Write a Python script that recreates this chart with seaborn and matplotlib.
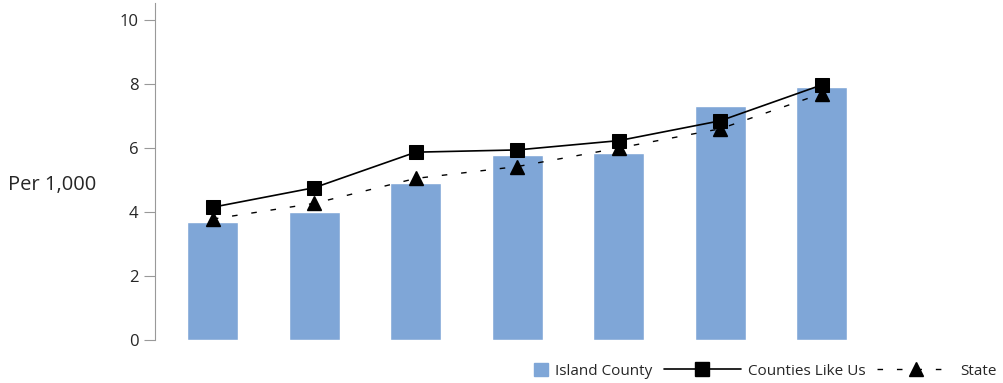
import numpy as np
import pandas as pd
import matplotlib
matplotlib.use("Agg")
import matplotlib.pyplot as plt
import matplotlib.patches as mpatches
from matplotlib.lines import Line2D
from matplotlib.legend_handler import HandlerPatch
import seaborn as sns

# data
periods = ["P1", "P2", "P3", "P4", "P5", "P6", "P7"]
island_county = [3.68, 3.99, 4.90, 5.78, 5.85, 7.30, 7.90]
counties_like_us = [4.15, 4.76, 5.87, 5.94, 6.23, 6.85, 7.97]
state = [3.78, 4.27, 5.05, 5.42, 6.00, 6.60, 7.70]

sns.set_style("white")
plt.rcParams['font.family'] = ['Open Sans', 'DejaVu Sans']

fig = plt.figure(figsize=(10.04, 3.83), dpi=100)
ax = fig.add_axes([0.1544, 0.1123, 0.7216, 0.8797])

bar_color = "#7FA6D7"
df = pd.DataFrame({"period": periods, "value": island_county})
sns.barplot(data=df, x="period", y="value", color=bar_color, width=0.5,
            saturation=1, ax=ax, zorder=1)

xs = np.arange(len(periods))
sns.lineplot(x=xs, y=state, color="black", lw=1, ax=ax, zorder=2,
             dashes=False)
ax.lines[-1].set_dashes((4, 10))
ax.plot(xs, state, linestyle="none", marker="^", markersize=10,
        color="black", zorder=3)
sns.lineplot(x=xs, y=counties_like_us, color="black", lw=1.2, ax=ax,
             marker="s", markersize=9.5, markeredgecolor="black", zorder=4)

ax.set_xlim(-0.57, 6.57)
ax.set_ylim(0, 10.53)
ax.set_yticks([0, 2, 4, 6, 8, 10])
ax.set_xticks([])
ax.set_xlabel("")
ax.set_ylabel("")
fig.text(8 / 1004, 1 - 185 / 383, "Per 1,000", ha="left", va="center",
         fontsize=14.5)

for s in ["top", "right", "bottom"]:
    ax.spines[s].set_visible(False)
ax.spines["left"].set_color("#999999")
ax.tick_params(axis="y", left=True, length=8, color="#999999",
               labelsize=12, pad=4)


# small square at the right end of the handle box, like the reference
def square_patch(legend, orig_handle, xdescent, ydescent, width, height, fontsize):
    size = 10
    return mpatches.Rectangle((-xdescent + width - size, -ydescent + (height - size) / 2),
                              size, size)


handles = [
    mpatches.Patch(facecolor=bar_color, edgecolor=bar_color),
    Line2D([], [], color="black", lw=1.2, marker="s", markersize=9.5),
    Line2D([], [], color="black", lw=1, marker="^", markersize=10,
           dashes=(4, 10)),
]
labels = ["Island County", "Counties Like Us", "State"]
fig.legend(handles, labels, loc="center right",
           bbox_to_anchor=(1.0, 1 - 371 / 383),
           ncol=3, frameon=False, fontsize=11, handlelength=5.0,
           handleheight=0.9, columnspacing=0.8, handletextpad=0.45,
           borderaxespad=0.05,
           handler_map={mpatches.Patch: HandlerPatch(patch_func=square_patch)})

fig.savefig("out.png", dpi=100)
